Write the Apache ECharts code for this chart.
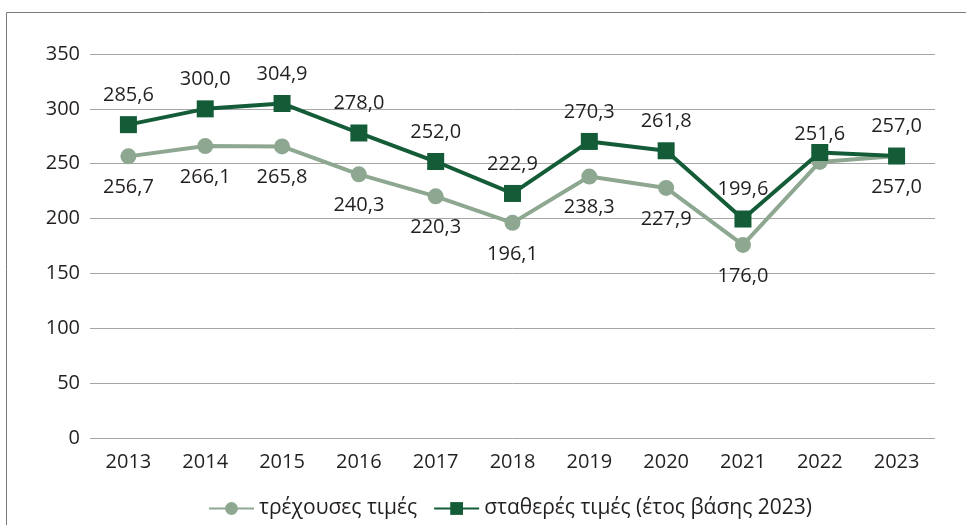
<!DOCTYPE html>
<html>
<head>
<meta charset="utf-8">
<script src="https://cdn.jsdelivr.net/npm/echarts@6/dist/echarts.min.js"></script>
<style>
  html, body { margin: 0; padding: 0; background: #fff; }
  #chart { width: 966px; height: 525px; }
</style>
</head>
<body>
<div id="chart"></div>
<script>
const years = ['2013', '2014', '2015', '2016', '2017', '2018', '2019', '2020', '2021', '2022', '2023'];
const currentPrices = [256.7, 266.1, 265.8, 240.3, 220.3, 196.1, 238.3, 227.9, 176.0, 251.6, 257.0];
const constantPrices = [285.6, 300.0, 304.9, 278.0, 252.0, 222.9, 270.3, 261.8, 199.6, 260.2, 257.0];
const seriesNames = ['τρέχουσες τιμές', 'σταθερές τιμές (έτος βάσης 2023)'];

const FONT = '"Open Sans", sans-serif';
const TEXT = '#231f20';
const LIGHT = '#8ea791';
const DARK = '#135c37';

// comma decimals like the source
const fmt = (v) => v.toFixed(1).replace('.', ',');

let chart = echarts.init(document.getElementById('chart'));

// light series: labels below, except 2022 sits above
const lightData = currentPrices.map((v, i) => {
    if (i === 9) return { value: v, label: { position: 'top', distance: 10 } };
    return v;
});
// dark series: 2022 label is not shown in the source
const darkData = constantPrices.map((v, i) => {
    if (i === 9) return { value: v, label: { show: false } };
    return v;
});

const option = {
    animation: false,
    textStyle: { fontFamily: FONT },
    graphic: [{
        type: 'rect',
        shape: { x: 6.5, y: 12.5, width: 1000, height: 600 },
        style: { fill: 'none', stroke: '#7a7a7a', lineWidth: 1 },
        silent: true
    }],
    grid: { left: 90, right: 31, top: 54, bottom: 87 },
    legend: {
        left: 203,
        top: 493,
        itemWidth: 45,
        itemHeight: 16,
        itemGap: 16,
        textStyle: { fontFamily: FONT, fontSize: 21, color: TEXT },
        data: seriesNames
    },
    xAxis: {
        type: 'category',
        data: years,
        boundaryGap: true,
        axisLine: { show: false },
        axisTick: { show: false },
        axisLabel: { fontFamily: FONT, fontSize: 20, color: TEXT, margin: 14 }
    },
    yAxis: {
        type: 'value',
        min: 0,
        max: 350,
        interval: 50,
        axisLine: { show: false },
        axisTick: { show: false },
        axisLabel: { fontFamily: FONT, fontSize: 20, color: TEXT, margin: 10 },
        splitLine: { lineStyle: { color: '#a6a6a6', width: 1 } }
    },
    series: [
        {
            name: seriesNames[0],
            type: 'line',
            data: lightData,
            symbol: 'circle',
            symbolSize: 16,
            lineStyle: { color: LIGHT, width: 4 },
            itemStyle: { color: LIGHT },
            label: {
                show: true,
                position: 'bottom',
                distance: 13,
                fontFamily: FONT,
                fontSize: 20,
                color: TEXT,
                formatter: (p) => fmt(p.value)
            },
            z: 2
        },
        {
            name: seriesNames[1],
            type: 'line',
            data: darkData,
            symbol: 'rect',
            symbolSize: 17,
            lineStyle: { color: DARK, width: 4 },
            itemStyle: { color: DARK },
            label: {
                show: true,
                position: 'top',
                distance: 11,
                fontFamily: FONT,
                fontSize: 20,
                color: TEXT,
                formatter: (p) => fmt(p.value)
            },
            z: 3
        }
    ]
};

chart.setOption(option);
</script>
</body>
</html>
